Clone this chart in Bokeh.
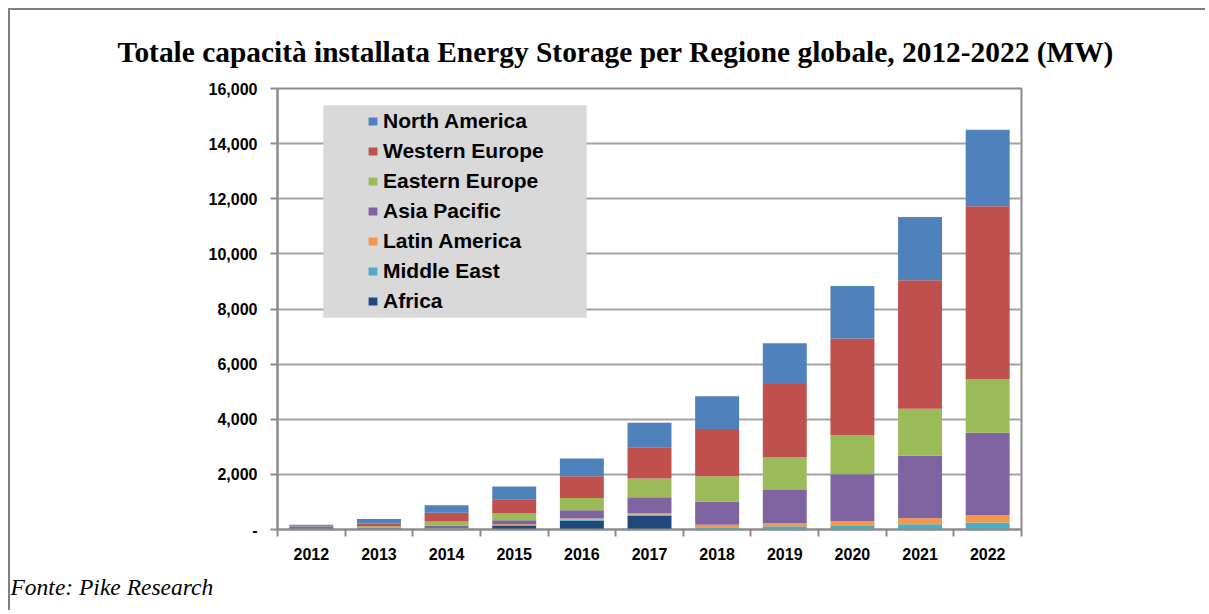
from bokeh.plotting import figure
from bokeh.models import (ColumnDataSource, Range1d, FixedTicker, NumeralTickFormatter,
                          CustomJSTickFormatter, Legend, LegendItem, Title, BoxAnnotation)
from bokeh.embed import file_html
from bokeh.resources import INLINE

# ---------------- data ----------------
years = ["2012", "2013", "2014", "2015", "2016", "2017", "2018", "2019", "2020", "2021", "2022"]
africa         = [5, 5, 15, 145, 314, 495, 0, 0, 0, 0, 0]
middle_east    = [5, 5, 10, 20, 36, 48, 84, 121, 156, 193, 253]
latin_america  = [10, 5, 15, 25, 48, 60, 87, 109, 145, 217, 264]
asia_pacific   = [100, 55, 105, 145, 302, 567, 845, 1207, 1700, 2268, 2991]
eastern_europe = [10, 50, 145, 265, 447, 676, 917, 1195, 1425, 1700, 1953]
western_europe = [25, 95, 315, 500, 785, 1134, 1714, 2643, 3508, 4666, 6268]
north_america  = [15, 170, 275, 458, 640, 893, 1183, 1484, 1903, 2290, 2774]

region_keys = ["africa", "middle_east", "latin_america", "asia_pacific",
               "eastern_europe", "western_europe", "north_america"]
region_names = ["Africa", "Middle East", "Latin America", "Asia Pacific",
                "Eastern Europe", "Western Europe", "North America"]
colors = ["#1F497D", "#4BACC6", "#F79646", "#8064A2", "#9BBB59", "#C0504D", "#4F81BD"]
y_ticks = [0, 2000, 4000, 6000, 8000, 10000, 12000, 14000, 16000]

title_text = "Totale capacità installata Energy Storage per Regione globale, 2012-2022 (MW)"
source_text = "Fonte: Pike Research"

# ---------------- figure ----------------
n = len(years)
src = ColumnDataSource(dict(
    x=[i + 0.5 for i in range(n)],
    africa=africa, middle_east=middle_east, latin_america=latin_america,
    asia_pacific=asia_pacific, eastern_europe=eastern_europe,
    western_europe=western_europe, north_america=north_america,
))

GRAY = "#8C8C8C"
p = figure(width=1197, height=602, output_backend="svg", toolbar_location=None,
           x_range=Range1d(0, n), y_range=Range1d(0, 16000),
           min_border_left=267, min_border_right=186, min_border_top=78, min_border_bottom=82)
p.styles = {"margin-top": "8px", "margin-left": "8px",
            "border-top": "2px solid #7F7F7F", "border-left": "2px solid #7F7F7F"}
p.background_fill_color = "white"
p.border_fill_color = "white"
p.outline_line_color = GRAY
p.outline_line_width = 2

renderers = p.vbar_stack(region_keys, x="x", width=0.65, color=colors, source=src,
                         line_color=None)

# grid
p.xgrid.visible = False
p.ygrid.grid_line_color = "#A3A3A3"
p.ygrid.grid_line_width = 2
p.ygrid.ticker = FixedTicker(ticks=y_ticks)

# y axis
ya = p.yaxis[0]
ya.ticker = FixedTicker(ticks=y_ticks)
ya.formatter = NumeralTickFormatter(format="0,0")
ya.major_label_overrides = {0: "-"}
ya.axis_line_color = GRAY
ya.axis_line_width = 2
ya.major_tick_line_color = GRAY
ya.major_tick_line_width = 2
ya.major_tick_out = 7
ya.major_tick_in = 0
ya.minor_tick_line_color = None
ya.major_label_standoff = 13
ya.major_label_text_font = "Liberation Sans"
ya.major_label_text_font_style = "bold"
ya.major_label_text_font_size = "16px"
ya.major_label_text_color = "black"

# x axis: labels at category centres, ticks at category boundaries
xa = p.xaxis[0]
xa.ticker = FixedTicker(ticks=[i + 0.5 for i in range(n)], minor_ticks=list(range(n + 1)))
xa.formatter = CustomJSTickFormatter(args=dict(labels=years),
                                     code="return labels[Math.floor(tick)] || '';")
xa.axis_line_color = GRAY
xa.axis_line_width = 2
xa.major_tick_line_color = None
xa.major_tick_out = 0
xa.major_tick_in = 0
xa.minor_tick_line_color = GRAY
xa.minor_tick_line_width = 2
xa.minor_tick_out = 7
xa.minor_tick_in = 0
xa.major_label_standoff = 11
xa.major_label_text_font = "Liberation Sans"
xa.major_label_text_font_style = "bold"
xa.major_label_text_font_size = "16px"
xa.major_label_text_color = "black"

# legend background box
p.add_layout(BoxAnnotation(left=46, right=309, top=424, bottom=212,
                           left_units="screen", right_units="screen",
                           top_units="screen", bottom_units="screen",
                           fill_color="#D9D9D9", fill_alpha=1.0,
                           line_color="#CFCFCF", line_width=1, level="annotation"))

items = [LegendItem(label=name, renderers=[r]) for name, r in zip(region_names, renderers)]
items.reverse()
legend = Legend(items=items, location=(90, 213), orientation="vertical",
                background_fill_alpha=0, border_line_color=None,
                padding=0, margin=0, spacing=0,
                label_height=30, glyph_height=10, glyph_width=11, label_standoff=5,
                label_text_font="Liberation Sans", label_text_font_style="bold",
                label_text_font_size="21px", label_text_color="black")
p.add_layout(legend)

# title and source
p.title.text = title_text
p.title.align = "left"
p.title.offset = -160
p.title.vertical_align = "bottom"
p.title.standoff = 42
p.title.text_font = "Liberation Serif"
p.title.text_font_style = "bold"
p.title.text_font_size = "29.4px"
p.title.text_color = "black"

p.add_layout(Title(text=source_text, align="left", offset=-267, vertical_align="top",
                   standoff=22,
                   text_font="Liberation Serif", text_font_style="italic",
                   text_font_size="23.5px", text_color="black"), "below")

open("out.html", "w").write(file_html(p, INLINE))
